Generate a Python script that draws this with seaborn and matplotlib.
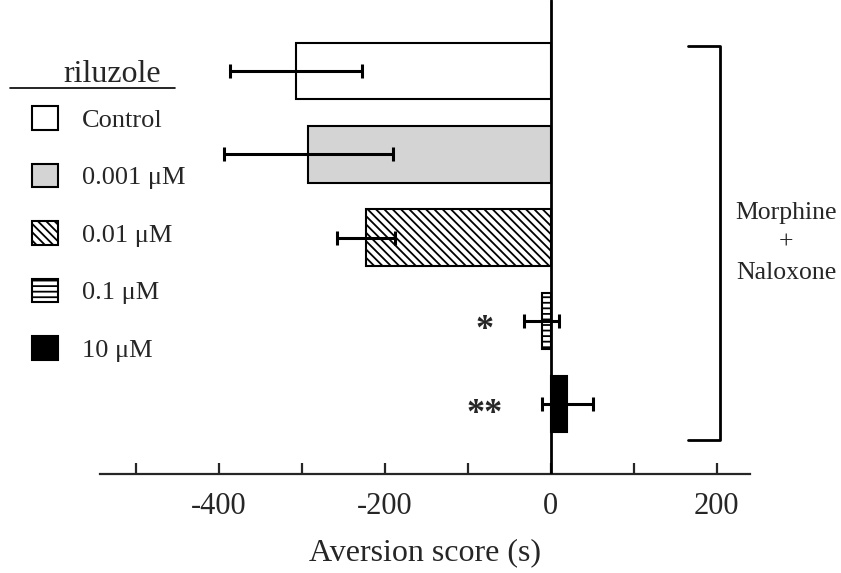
import matplotlib
matplotlib.use("Agg")
import pandas as pd
import seaborn as sns
from matplotlib import pyplot as plt
from matplotlib.lines import Line2D
from matplotlib.patches import Patch

sns.set_style("ticks")
plt.rcParams.update({
    "font.family": ["Liberation Serif", "DejaVu Serif"],
    "axes.unicode_minus": False,
    "hatch.linewidth": 1.3,
    "axes.linewidth": 1.6,
})

# data
groups = ["Control", "0.001 μM", "0.01 μM", "0.1 μM", "10 μM"]
scores = [-307, -292, -223, -11, 20]
sem = [80, 102, 35, 21, 31]
stars = ["", "", "", "*", "**"]

face_colors = ["white", "#d4d4d4", "white", "white", "black"]
hatches = ["", "", "\\\\\\\\", "---", ""]

df = pd.DataFrame({"group": groups, "score": scores, "sem": sem})

fig = plt.figure(figsize=(8.41, 5.73), dpi=100)
ax = fig.add_axes([100 / 841, 1 - 474 / 573, 650 / 841, 474 / 573])

sns.barplot(data=df, x="score", y="group", hue="group", palette=face_colors,
            orient="h", width=0.68, edgecolor="black", linewidth=1.5,
            legend=False, ax=ax)
for bar, h in zip(ax.patches, hatches):
    bar.set_hatch(h)

ax.errorbar(df["score"], range(len(groups)), xerr=df["sem"], fmt="none",
            ecolor="black", elinewidth=2.2, capsize=5, capthick=2.2, zorder=5)

for i, s in enumerate(stars):
    if s:
        ax.text(-80, i + 0.12, s, ha="center", va="center", fontsize=26,
                fontweight="bold")

ax.axvline(0, color="black", lw=2, zorder=6)
ax.set_xlim(-543, 240)
ax.set_ylim(4.84, -0.855)
ax.set_xticks([-400, -200, 0, 200])
ax.set_xticks([-500, -300, -100, 100], minor=True)
ax.tick_params(axis="x", which="both", direction="in", length=8, width=1.6,
               labelsize=22, pad=13)
ax.set_yticks([])
ax.set_ylabel("")
ax.set_xlabel("Aversion score (s)", fontsize=23, labelpad=12)
sns.despine(ax=ax, left=True)

# bracket + label on the right
fig.add_artist(Line2D([688 / 841, 720 / 841, 720 / 841, 688 / 841],
                      [1 - 46 / 573, 1 - 46 / 573, 1 - 440 / 573, 1 - 440 / 573],
                      color="black", lw=2))
fig.text(786 / 841, 1 - 243 / 573, "Morphine\n+\nNaloxone", ha="center",
         va="center", fontsize=18.5, linespacing=1.45)

# legend with underlined title
fig.text(112 / 841, 1 - 74 / 573, "riluzole", ha="center", va="center",
         fontsize=23)
fig.add_artist(Line2D([10 / 841, 175 / 841], [1 - 88 / 573, 1 - 88 / 573],
                      color="black", lw=1.2))
handles = [Patch(facecolor=c, edgecolor="black", hatch=h, linewidth=1.5)
           for c, h in zip(face_colors, hatches)]
fig.legend(handles, groups, loc="upper left",
           bbox_to_anchor=(32 / 841, 1 - 106 / 573), frameon=False,
           fontsize=19, handlelength=1.0, handleheight=1.0,
           labelspacing=1.2, handletextpad=0.9, borderpad=0,
           borderaxespad=0)

plt.savefig("out.png", dpi=100)
plt.close()
